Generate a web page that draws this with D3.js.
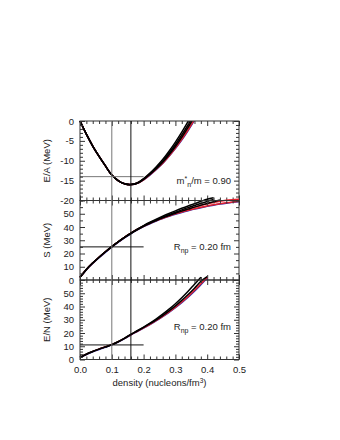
<!DOCTYPE html>
<html><head><meta charset="utf-8">
<script src="https://cdn.jsdelivr.net/npm/d3@7"></script>
<style>html,body{margin:0;padding:0;background:#fff;}svg{display:block;}</style>
</head><body>
<script>
// ---- data ----
const density = [0,0.02,0.04,0.06,0.08,0.10,0.12,0.14,0.16,0.18,0.20,0.22,0.24,0.26,0.28,0.30,0.32,0.34,0.36,0.38,0.40,0.42,0.44,0.46,0.48,0.50];

// Panel 1: E/A (MeV)
const eaBlackA = [0,-3.3,-6.3,-8.9,-11.3,-13.6,-15.0,-15.8,-16.0,-15.6,-14.5,-13.1,-11.5,-9.7,-7.6,-5.3,-2.8,-0.1,2.8];
const eaBlackB = [0,-3.3,-6.3,-8.9,-11.3,-13.6,-15.0,-15.8,-16.0,-15.6,-14.6,-13.3,-11.8,-10.1,-8.1,-5.9,-3.5,-0.9,1.9];
const eaBlackC = [0,-3.3,-6.3,-8.9,-11.3,-13.6,-15.0,-15.8,-16.0,-15.7,-14.7,-13.4,-12.0,-10.4,-8.5,-6.4,-4.1,-1.6,1.1];
const eaRedA   = [0,-3.3,-6.3,-8.9,-11.3,-13.6,-15.0,-15.8,-16.0,-15.6,-14.6,-13.3,-11.9,-10.3,-8.4,-6.2,-3.8,-1.2,1.6];
const eaRedB   = [0,-3.3,-6.3,-8.9,-11.3,-13.6,-15.0,-15.8,-16.0,-15.7,-14.8,-13.5,-12.1,-10.6,-8.8,-6.8,-4.6,-2.2,0.4,3.2];
const eaBlue   = [0,-3.3,-6.3,-8.9,-11.3,-13.6,-15.0,-15.8,-16.0,-15.7,-14.8,-13.6,-12.2,-10.7,-8.9,-6.9,-4.8,-2.4,0.2,3.0];

// Panel 2: S (MeV)
const sBlackA = [2,8,12.8,17.2,21.3,25.2,28.8,32.2,35.4,38.4,41.1,43.6,45.9,48.1,50.2,52.2,54.1,55.9,57.6,59.3,60.9,62.0];
const sBlackB = [2,8,12.8,17.2,21.3,25.2,28.8,32.2,35.3,38.2,40.8,43.2,45.4,47.4,49.3,51.1,52.9,54.6,56.2,57.8,59.3,60.7];
const sBlackC = [2,8,12.8,17.2,21.3,25.2,28.8,32.1,35.1,37.9,40.5,42.8,44.9,46.9,48.7,50.4,52.0,53.5,55.0,56.4,57.8,59.1,60.3];
const sRedA   = [2,8,12.8,17.2,21.3,25.2,28.8,32.2,35.3,38.1,40.6,42.8,44.8,46.6,48.3,49.9,51.3,52.6,53.8,54.9,55.9,56.8,57.6,58.3,58.9,59.4];
const sRedB   = [2,8,12.8,17.2,21.3,25.2,28.8,32.2,35.3,38.2,40.7,43.0,45.1,47.0,48.8,50.5,52.1,53.6,55.0,56.3,57.5,58.5,59.4,60.1,60.6,61.0];
const sBlue   = [2,7.6,12.4,16.8,20.9,24.8,28.4,31.8,34.9,37.8,40.3,42.5,44.5,46.3,48.0,49.6,51.0,52.3,53.5,54.6,55.6,56.5,57.3,58.0,58.6,59.1];

// Panel 3: E/N (MeV)
const enBlackA = [1.5,4.0,6.0,7.8,9.5,11.2,13.4,16.1,19.0,21.7,24.5,27.5,30.7,34.2,38.0,42.1,46.6,51.5,56.8,62.0];
const enBlackB = [1.5,4.0,6.0,7.8,9.5,11.2,13.4,16.0,18.9,21.5,24.2,27.0,30.0,33.2,36.7,40.5,44.6,49.0,53.8,59.0,62.5];
const enRed    = [1.5,4.0,6.1,7.9,9.6,11.3,13.4,15.9,18.7,21.3,23.9,26.6,29.5,32.6,35.9,39.5,43.4,47.6,52.2,57.2,62.0];
const enBlue   = [1.5,3.8,5.8,7.6,9.3,11.0,13.1,15.7,18.5,21.1,23.7,26.4,29.3,32.3,35.6,39.1,42.9,47.0,51.5,56.4,61.5];

const xTicks = [0.0,0.1,0.2,0.3,0.4,0.5];
const eaTicks = [0,-5,-10,-15,-20];
const sTicks = [0,10,20,30,40,50];
const enTicks = [0,10,20,30,40,50];
const markDensities = [0.10, 0.16];
const eaMark = -14, sMark = 25, enMark = 11;

// ---- layout ----
const W = 340, H = 440;
const svg = d3.select("body").append("svg").attr("width", W).attr("height", H);
const font = "'Liberation Sans', Arial, Helvetica, sans-serif";
const x = d3.scaleLinear().domain([0, 0.5]).range([80, 239]);

const RED = "#e2202c", BLUE = "#2b2fb0", BLACK = "#000";
const panels = [
  {top:121, bottom:200.5, dom:[-20,0], ticks:eaTicks, minor:1, title:"E/A (MeV)",
   curves:[[eaBlue,BLUE],[eaRedB,RED],[eaRedA,RED],[eaBlackC,BLACK],[eaBlackB,BLACK],[eaBlackA,BLACK]], mark:eaMark, clip:true},
  {top:200.5, bottom:280, dom:[0,60], ticks:sTicks, minor:5, title:"S (MeV)",
   curves:[[sBlue,BLUE],[sRedA,RED],[sRedB,RED],[sBlackC,BLACK],[sBlackB,BLACK],[sBlackA,BLACK]], mark:sMark},
  {top:280, bottom:359.5, dom:[0,60], ticks:enTicks, minor:2, title:"E/N (MeV)",
   curves:[[enBlue,BLUE],[enRed,RED],[enBlackB,BLACK],[enBlackA,BLACK]], mark:enMark}
];

const axisColor = "#333";
function styleAxis(g){
  g.select(".domain").remove();
  g.selectAll("line").attr("stroke", axisColor).attr("stroke-width", 1);
  g.selectAll("text").attr("font-family", font).attr("font-size", 9.5).attr("fill", "#222");
}

const defs = svg.append("defs");

panels.forEach((p, i) => {
  const y = d3.scaleLinear().domain(p.dom).range([p.bottom, p.top]);
  const g = svg.append("g");

  let cg = g.append("g");
  if (p.clip) {
    defs.append("clipPath").attr("id", "clip" + i).append("rect")
      .attr("x", 60).attr("y", p.top).attr("width", 200).attr("height", p.bottom - p.top + 20);
    cg.attr("clip-path", "url(#clip" + i + ")");
  }
  p.curves.forEach(([vals, col]) => {
    const pts = vals.map((v, k) => [density[k], v]).filter(d => d[1] != null);
    const line = d3.line().x(d => x(d[0])).y(d => y(d[1])).curve(d3.curveCatmullRom.alpha(0.5));
    cg.append("path").datum(pts).attr("d", line).attr("fill", "none")
      .attr("stroke", col).attr("stroke-width", 1.5).attr("stroke-linejoin", "round");
  });

  g.append("line").attr("x1", x(0)).attr("x2", x(0.2)).attr("y1", y(p.mark)).attr("y2", y(p.mark))
    .attr("stroke", i === 0 ? "#777" : "#111").attr("stroke-width", 1);

  const fmt = d => String(d);
  const minorVals = d3.range(p.dom[0], p.dom[1] + 0.001, p.minor).filter(v => !p.ticks.includes(v));
  const left = g.append("g").attr("transform", `translate(${x(0)},0)`)
    .call(d3.axisLeft(y).tickValues(p.ticks).tickSizeInner(-5).tickSizeOuter(0).tickPadding(6).tickFormat(fmt));
  styleAxis(left);
  const leftMinor = g.append("g").attr("transform", `translate(${x(0)},0)`)
    .call(d3.axisLeft(y).tickValues(minorVals).tickSizeInner(-3).tickSizeOuter(0).tickFormat(""));
  styleAxis(leftMinor);
  const right = g.append("g").attr("transform", `translate(${x(0.5)},0)`)
    .call(d3.axisRight(y).tickValues(p.ticks.concat([p.dom[1]])).tickSizeInner(-5).tickSizeOuter(0).tickFormat(""));
  styleAxis(right);
  const rightMinor = g.append("g").attr("transform", `translate(${x(0.5)},0)`)
    .call(d3.axisRight(y).tickValues(minorVals).tickSizeInner(-3).tickSizeOuter(0).tickFormat(""));
  styleAxis(rightMinor);

  const xMinor = d3.range(0, 0.5001, 0.02).filter(v => Math.abs(v*10 - Math.round(v*10)) > 1e-6);
  const top = g.append("g").attr("transform", `translate(0,${p.top})`)
    .call(d3.axisTop(x).tickValues(xTicks).tickSizeInner(-5).tickSizeOuter(0).tickFormat(""));
  styleAxis(top);
  const topMinor = g.append("g").attr("transform", `translate(0,${p.top})`)
    .call(d3.axisTop(x).tickValues(xMinor).tickSizeInner(-3).tickSizeOuter(0).tickFormat(""));
  styleAxis(topMinor);
  const bot = g.append("g").attr("transform", `translate(0,${p.bottom})`)
    .call(d3.axisBottom(x).tickValues(xTicks).tickSizeInner(-5).tickSizeOuter(0).tickPadding(7)
      .tickFormat(i === 2 ? d3.format(".1f") : ""));
  styleAxis(bot);
  const botMinor = g.append("g").attr("transform", `translate(0,${p.bottom})`)
    .call(d3.axisBottom(x).tickValues(xMinor).tickSizeInner(-3).tickSizeOuter(0).tickFormat(""));
  styleAxis(botMinor);

  g.append("rect").attr("x", x(0)).attr("y", p.top).attr("width", x(0.5) - x(0)).attr("height", p.bottom - p.top)
    .attr("fill", "none").attr("stroke", axisColor).attr("stroke-width", 1);

  g.append("text").attr("transform", `translate(50,${(p.top + p.bottom) / 2}) rotate(-90)`)
    .attr("text-anchor", "middle").attr("font-family", font).attr("font-size", 9.5).attr("fill", "#222")
    .text(p.title);
});

// vertical marker lines across all panels
const yTop = panels[0].top, yBot = panels[2].bottom;
svg.append("line").attr("x1", x(markDensities[0])).attr("x2", x(markDensities[0]))
  .attr("y1", yTop).attr("y2", yBot).attr("stroke", "#777").attr("stroke-width", 1);
svg.append("line").attr("x1", x(markDensities[1])).attr("x2", x(markDensities[1]))
  .attr("y1", yTop).attr("y2", yBot).attr("stroke", "#111").attr("stroke-width", 1);

// annotations
function annot(yPos, parts) {
  const t = svg.append("text").attr("x", 231).attr("y", yPos).attr("text-anchor", "end")
    .attr("font-family", font).attr("font-size", 9.5).attr("fill", "#222");
  parts.forEach(([s, shift, size]) => {
    const ts = t.append("tspan").text(s).attr("font-size", size || 9.5);
    if (shift) ts.attr("dy", shift);
  });
}
annot(184, [["m"], ["*", -3, 7], ["n", 6, 7], ["/m = 0.90", -3]]);
annot(250, [["R"], ["np", 2.5, 7], [" = 0.20 fm", -2.5]]);
annot(330, [["R"], ["np", 2.5, 7], [" = 0.20 fm", -2.5]]);

// x title
const xt = svg.append("text").attr("x", (x(0) + x(0.5)) / 2).attr("y", 386).attr("text-anchor", "middle")
  .attr("font-family", font).attr("font-size", 9.5).attr("fill", "#222");
xt.append("tspan").text("density (nucleons/fm");
xt.append("tspan").text("3").attr("font-size", 6.5).attr("dy", -3);
xt.append("tspan").text(")").attr("dy", 3);
</script>
</body></html>
